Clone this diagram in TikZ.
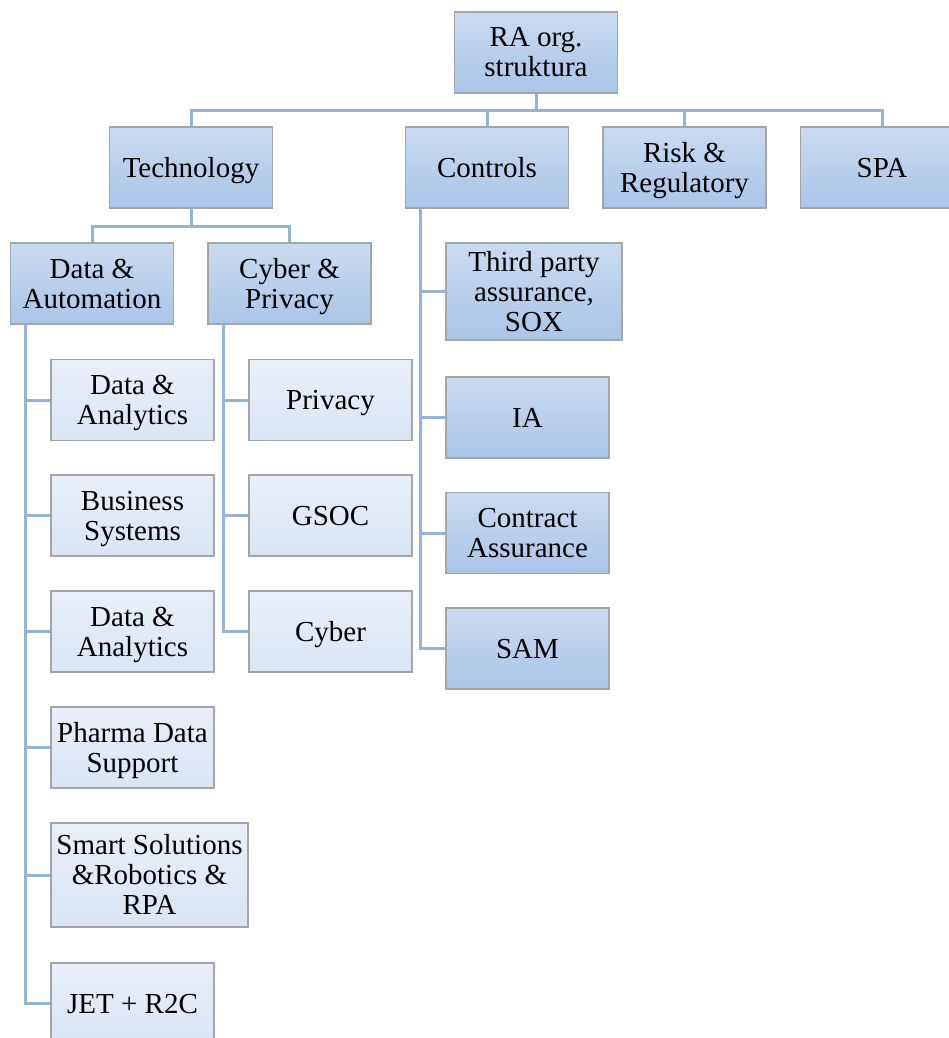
\documentclass[tikz,border=0pt]{standalone}
\usepackage{fontspec}
\setmainfont{Liberation Serif}
\definecolor{linec}{HTML}{95B3D7}
\definecolor{midtop}{HTML}{C9DBF1}
\definecolor{midbot}{HTML}{A9C5E8}
\definecolor{lighttop}{HTML}{E9EFF8}
\definecolor{lightbot}{HTML}{DAE5F3}
\definecolor{edgec}{HTML}{A5A5A5}
\newcommand\fl{\rule{0pt}{26pt}}
\begin{document}
\begin{tikzpicture}[x=1pt,y=-1pt,
  box/.style={draw=edgec,line width=1.2pt,inner sep=0pt,align=center,
    font=\fontsize{29}{30}\selectfont,minimum width=163pt,minimum height=81pt,
    execute at end node={\rule[-7pt]{0pt}{7pt}}},
  midbox/.style={box,top color=midtop,bottom color=midbot},
  lightbox/.style={box,top color=lighttop,bottom color=lightbot},
  conn/.style={draw=linec,line width=3pt}]
\path[use as bounding box] (0,0) rectangle (949,1038);
\clip (0,0) rectangle (949,1038);
% level 0
\node[midbox] (root) at (536,52.5) {\fl RA org.\\struktura};
% level 1
\node[midbox] (tech) at (191,167.5) {\fl Technology};
\node[midbox] (ctrl) at (487,167.5) {\fl Controls};
\node[midbox] (risk) at (684.5,167.5) {\fl Risk \&\\Regulatory};
\node[midbox] (spa) at (882,167.5) {\fl SPA};
% level 2
\node[midbox] (da) at (92,283.5) {\fl Data \&\\Automation};
\node[midbox] (cp) at (289.5,283.5) {\fl Cyber \&\\Privacy};
% DA children
\node[lightbox] (d1) at (132.5,400) {\fl Data \&\\Analytics};
\node[lightbox] (d2) at (132.5,515.5) {\fl Business\\Systems};
\node[lightbox] (d3) at (132.5,631.5) {\fl Data \&\\Analytics};
\node[lightbox] (d4) at (132.5,747.5) {\fl Pharma Data\\Support};
\node[lightbox,minimum width=197pt,minimum height=104pt] (d5) at (149.5,875) {\fl Smart Solutions\\\&Robotics \&\\RPA};
\node[lightbox] (d6) at (132.5,1003.5) {\fl JET + R2C};
% CP children
\node[lightbox] (c1) at (330.5,400) {\fl Privacy};
\node[lightbox] (c2) at (330.5,515.5) {\fl GSOC};
\node[lightbox] (c3) at (330.5,631.5) {\fl Cyber};
% Controls children
\node[midbox,minimum width=176pt,minimum height=97pt] (k1) at (534,291.5) {\fl Third party\\assurance,\\SOX};
\node[midbox] (k2) at (527.5,417.5) {\fl IA};
\node[midbox] (k3) at (527.5,533) {\fl Contract\\Assurance};
\node[midbox] (k4) at (527.5,648.5) {\fl SAM};
% connectors
\foreach \n in {tech,ctrl,risk,spa}
  \draw[conn] (root.south) -- ++(0,17) -| (\n.north);
\foreach \n in {da,cp}
  \draw[conn] (tech.south) -- ++(0,18) -| (\n.north);
\foreach \n in {d1,d2,d3,d4,d5,d6}
  \draw[conn] ([xshift=16pt]da.south west) |- (\n.west);
\foreach \n in {c1,c2,c3}
  \draw[conn] ([xshift=16pt]cp.south west) |- (\n.west);
\foreach \n in {k1,k2,k3,k4}
  \draw[conn] ([xshift=16pt]ctrl.south west) |- (\n.west);
\end{tikzpicture}
\end{document}
